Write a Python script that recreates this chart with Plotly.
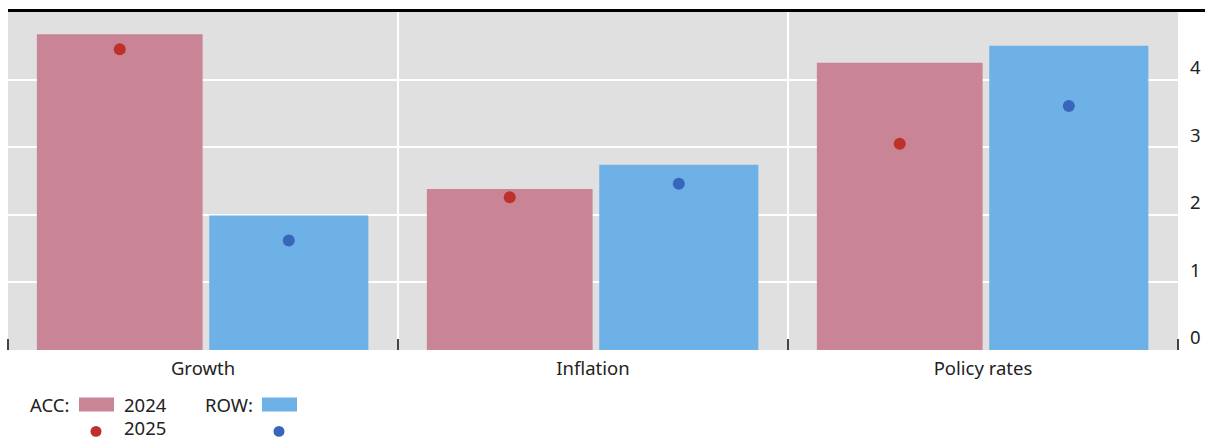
import plotly.graph_objects as go

# Data
categories = ["Growth", "Inflation", "Policy rates"]
acc_2024 = [4.67, 2.38, 4.25]
acc_2025 = [4.45, 2.26, 3.05]
row_2024 = [1.99, 2.74, 4.50]
row_2025 = [1.62, 2.46, 3.61]
y_ticks = [0, 1, 2, 3, 4]

# Styling
PINK = "#C98496"
BLUE = "#6DB1E7"
RED_DOT = "#C0302B"
BLUE_DOT = "#3767BA"
BG = "#E0E0E0"
FONT = "Noto Sans"
TEXT = "#222222"
FS = 18.5

W, H = 1205, 441
M_L, M_R, M_T, M_B = 8, 27, 12, 90.5
PW = W - M_L - M_R
PH = H - M_T - M_B

# bar geometry (in category units)
acc_w, acc_off = 0.425, -0.426
row_w, row_off = 0.408, 0.016

xs = list(range(len(categories)))
acc_centers = [x + acc_off + acc_w / 2 for x in xs]
row_centers = [x + row_off + row_w / 2 for x in xs]

fig = go.Figure()
fig.add_trace(go.Bar(x=xs, y=acc_2024, width=acc_w, offset=acc_off,
                     marker=dict(color=PINK, line=dict(width=0)), name="ACC 2024"))
fig.add_trace(go.Bar(x=xs, y=row_2024, width=row_w, offset=row_off,
                     marker=dict(color=BLUE, line=dict(width=0)), name="ROW 2024"))
fig.add_trace(go.Scatter(x=acc_centers, y=acc_2025, mode="markers",
                         marker=dict(color=RED_DOT, size=12), name="ACC 2025"))
fig.add_trace(go.Scatter(x=row_centers, y=row_2025, mode="markers",
                         marker=dict(color=BLUE_DOT, size=12), name="ROW 2025"))

fig.update_layout(
    width=W, height=H,
    margin=dict(l=M_L, r=M_R, t=M_T, b=M_B, pad=0, autoexpand=False),
    plot_bgcolor=BG, paper_bgcolor="white",
    barmode="overlay", showlegend=False,
    font=dict(family=FONT, size=FS, color=TEXT),
)
fig.update_xaxes(
    range=[-0.5, len(categories) - 0.5], automargin=False,
    tickvals=xs, ticktext=categories, ticks="", showgrid=False,
    zeroline=False, showline=False,
    tickfont=dict(size=FS, color=TEXT), ticklabelstandoff=5,
    minor=dict(tickvals=[x - 0.5 for x in xs] + [len(categories) - 0.5],
               ticks="inside", ticklen=11, tickwidth=1.5, tickcolor="#444444",
               showgrid=True, gridcolor="white", gridwidth=2),
)
fig.update_yaxes(
    range=[0, 5], side="right", tickvals=y_ticks, ticks="", automargin=False,
    showgrid=True, gridcolor="white", gridwidth=2, zeroline=False,
    showline=False, tickfont=dict(size=FS, color=TEXT),
    ticklabelshift=-12, ticklabelstandoff=11,
)

# top rule
fig.add_shape(type="line", xref="paper", yref="paper",
              x0=0, x1=(W - M_L) / PW, y0=1 + 1.5 / PH, y1=1 + 1.5 / PH,
              line=dict(color="black", width=3))


def px_x(px):
    return (px - M_L) / PW


def px_y(py):
    return (H - M_B - py) / PH


# legend
row1, row2 = 405, 428.5
legend_text = [("ACC:", 29, row1), ("2024", 123, row1), ("2025", 123, row2), ("ROW:", 204, row1)]
for txt, x0, yc in legend_text:
    fig.add_annotation(text=txt, xref="paper", yref="paper", x=px_x(x0), y=px_y(yc),
                       xanchor="left", yanchor="middle", showarrow=False, borderpad=0,
                       font=dict(size=FS, color=TEXT))
for color, x0, x1 in [(PINK, 79, 114), (BLUE, 262, 297)]:
    fig.add_shape(type="rect", xref="paper", yref="paper",
                  x0=px_x(x0), x1=px_x(x1), y0=px_y(412), y1=px_y(398),
                  fillcolor=color, line=dict(width=0))
dot_y = 432
for color, xc in [(RED_DOT, 96), (BLUE_DOT, 279)]:
    fig.add_shape(type="circle", xref="paper", yref="paper",
                  x0=px_x(xc - 5.5), x1=px_x(xc + 5.5), y0=px_y(dot_y + 5.5), y1=px_y(dot_y - 5.5),
                  fillcolor=color, line=dict(width=0))

fig.write_html("out.html")
